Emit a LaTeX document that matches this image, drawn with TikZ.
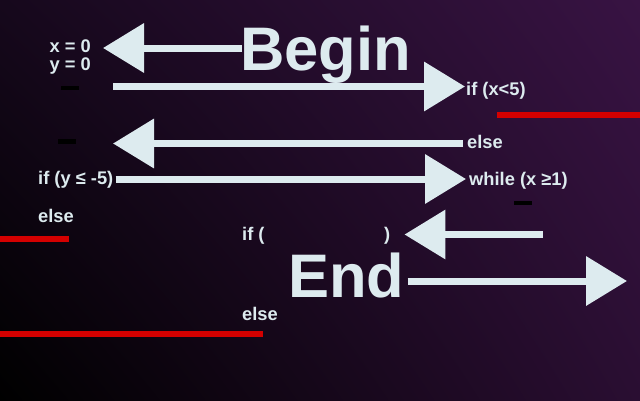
\documentclass[tikz,border=0pt]{standalone}
\usepackage{fontspec}
\setmainfont{Liberation Sans}
\usetikzlibrary{arrows.meta,positioning,shadings}
\definecolor{ice}{RGB}{221,235,239}
\definecolor{barred}{RGB}{212,0,0}
\definecolor{bgtl}{RGB}{22,8,28}
\definecolor{bgtr}{RGB}{56,19,67}
\definecolor{bgbr}{RGB}{42,14,50}
\tikzset{
  lbl/.style={text=ice, font=\bfseries\fontsize{18.3}{18}\selectfont, inner sep=0pt},
  big/.style={text=ice, font=\bfseries\fontsize{61.5}{62}\selectfont, inner sep=0pt},
  arr/.style={draw=ice, line width=7pt, -{Triangle[length=41pt,width=48pt]}},
  redbar/.style={fill=barred},
  gapbar/.style={fill=black},
}
\begin{document}
\begin{tikzpicture}[x=1pt,y=-1pt]
  \shade[upper left=bgtl, upper right=bgtr, lower left=black, lower right=bgbr]
    (0,0) rectangle (640,400);
  \useasboundingbox (0,0) rectangle (640,400);

  \node[lbl, anchor=base east] (xval) at (91,52) {x = 0};
  \node[lbl, anchor=base east] (yval) at (91,70) {y = 0};
  \node[big, anchor=base west] (begin) at (240,70) {Begin};
  \node[lbl, anchor=base west] (ifx) at (466,95) {if (x<5)};
  \node[lbl, anchor=base west] (else1) at (467,148) {else};
  \node[lbl, anchor=base west] (ify) at (38,184) {if (y ≤ -5)};
  \node[lbl, anchor=base west] (while) at (469,185) {while (x ≥1)};
  \node[lbl, anchor=base west] (else2) at (38,222) {else};
  \node[lbl, anchor=base west] (ifopen) at (242,240) {if (};
  \node[lbl, anchor=base west] (ifclose) at (384,240) {)};
  \node[big, anchor=base west] (end) at (288,297) {End};
  \node[lbl, anchor=base west] (else3) at (242,320) {else};

  \coordinate (a1) at (242,48);
  \coordinate (a2) at (113,86.5);
  \coordinate (a3) at (113,143.5);
  \coordinate (a4) at (0,179);
  \coordinate (a5) at (543,234.5);
  \coordinate (a6) at (627,281);

  \draw[arr, shorten >=12pt] (a1) -- (a1 -| xval.east);
  \draw[arr, shorten >=1pt] (a2) -- (a2 -| ifx.west);
  \draw[arr, shorten <=4pt] (a3 -| else1.west) -- (a3);
  \draw[arr, shorten <=2pt, shorten >=3pt] (ify.east |- a4) -- (while.west |- a4);
  \draw[arr, shorten >=14pt] (a5) -- (a5 -| ifclose.east);
  \draw[arr, shorten <=3pt] (end.east |- a6) -- (a6);

  \fill[redbar] (497,112) rectangle (640,118);
  \fill[redbar] (0,236) rectangle (69,242);
  \fill[redbar] (0,331) rectangle (263,337);

  \fill[gapbar] (61,86) rectangle (79,90);
  \fill[gapbar] (58,139) rectangle (76,144);
  \fill[gapbar] (514,201) rectangle (532,205);
\end{tikzpicture}
\end{document}
